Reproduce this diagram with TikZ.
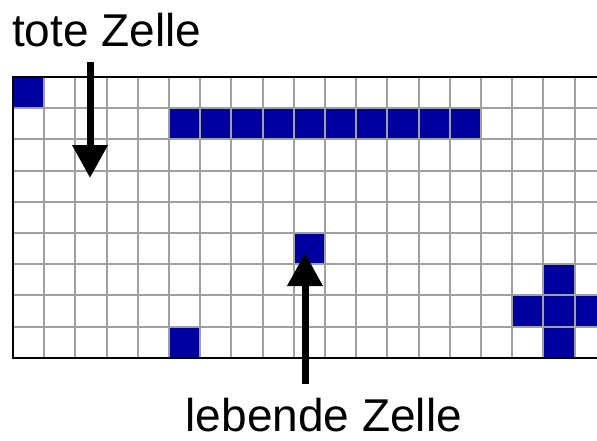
\documentclass[tikz,border=0pt]{standalone}
\usepackage{fontspec}
\setmainfont{Liberation Sans}
\usetikzlibrary{arrows.meta}
\definecolor{livecell}{RGB}{0,0,160}
\definecolor{gridgray}{RGB}{160,160,160}
\tikzset{
  label/.style={font=\fontsize{46}{55}\selectfont, inner sep=0pt},
  cellfill/.style={fill=livecell},
  gridline/.style={draw=gridgray, line width=2pt},
  border/.style={draw=black, line width=2pt},
  bigarrow/.style={draw=black, line width=7pt,
    -{Triangle[width=34pt,length=33pt]}},
}
\begin{document}
\begin{tikzpicture}[x=1pt,y=-1pt]
  \useasboundingbox (0,0) rectangle (597,440);
  \def\ox{13}\def\oy{77}\def\cs{31.2}
  % live cells (column, row)
  \begin{scope}
    \clip (0,0) rectangle (597,440);
    \foreach \c/\r in {0/0, 5/1, 6/1, 7/1, 8/1, 9/1, 10/1, 11/1, 12/1, 13/1, 14/1,
                       9/5, 5/8, 17/6, 16/7, 17/7, 18/7, 17/8}
      \fill[cellfill] (\ox+\c*\cs, \oy+\r*\cs) rectangle ++(\cs,\cs);
    % grid lines
    \foreach \k in {1,...,18}
      \draw[gridline] (\ox+\k*\cs, \oy) -- (\ox+\k*\cs, \oy+9*\cs);
    \foreach \k in {1,...,8}
      \draw[gridline] (\ox, \oy+\k*\cs) -- (597, \oy+\k*\cs);
    % outer border, open to the right
    \draw[border] (597,\oy) -- (\ox,\oy) -- (\ox,\oy+9*\cs) -- (597,\oy+9*\cs);
  \end{scope}
  % labels
  \node[label, anchor=base west] (tote) at (12,46.5) {tote Zelle};
  \node[label, anchor=base west] (lebende) at (185.5,431) {lebende Zelle};
  % arrow ends
  \coordinate (toteStart) at (90,62);
  \coordinate (toteCell) at (90,178);
  \coordinate (lebendeStart) at (305,384);
  \coordinate (lebendeCell) at (305,253);
  \draw[bigarrow] (toteStart) -- (toteCell);
  \draw[bigarrow] (lebendeStart) -- (lebendeCell);
\end{tikzpicture}
\end{document}
